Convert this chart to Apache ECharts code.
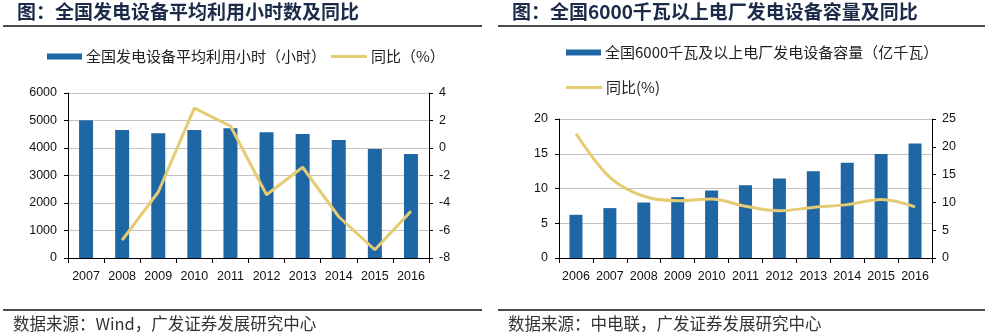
<!DOCTYPE html>
<html>
<head>
<meta charset="utf-8">
<script src="https://cdn.jsdelivr.net/npm/echarts@6/dist/echarts.min.js"></script>
<style>
  html, body { margin: 0; padding: 0; background: #fff; }
  #chart { width: 989px; height: 334px; }
</style>
</head>
<body>
<div id="chart"></div>
<script>
// Left panel: average utilisation hours of generating equipment and YoY change
const yearsA = ['2007','2008','2009','2010','2011','2012','2013','2014','2015','2016'];
const hoursA = [5011, 4655, 4535, 4655, 4715, 4570, 4509, 4290, 3964, 3782];
const yoyA   = [null, -6.7, -3.2, 2.9, 1.6, -3.4, -1.4, -5.0, -7.4, -4.6];

// Right panel: capacity of plants of 6000 kW and above (100 million kW) and YoY change
const yearsB = ['2006','2007','2008','2009','2010','2011','2012','2013','2014','2015','2016'];
const capB   = [6.22, 7.18, 7.98, 8.76, 9.71, 10.48, 11.43, 12.49, 13.69, 14.98, 16.46];
const yoyB   = [22.4, 14.5, 11.1, 10.3, 10.6, 9.3, 8.5, 9.1, 9.6, 10.5, 9.2];

const ticksA_left  = { min: 0, max: 6000, interval: 1000 };
const ticksA_right = { min: -8, max: 4, interval: 2 };
const ticksB_left  = { min: 0, max: 20, interval: 5 };
const ticksB_right = { min: 0, max: 25, interval: 5 };

const BAR = '#1F67A4';
const LINE = '#E5CB72';
const TITLE = '#1C2B49';
const SANS = '"Liberation Sans", Arial, "Noto Sans CJK SC", sans-serif';
const CJK = '"Noto Sans CJK SC", "Liberation Sans", sans-serif';

const axisLabel = { color: '#111', fontSize: 12.5, fontFamily: SANS };
const blackLine = { show: true, lineStyle: { color: '#000', width: 1 } };
const tick = { show: true, length: 4, lineStyle: { color: '#000' } };

function valueAxis(grid, pos, t, split) {
  return {
    type: 'value', gridIndex: grid, position: pos,
    min: t.min, max: t.max, interval: t.interval,
    axisLine: blackLine, axisTick: tick,
    axisLabel: Object.assign({ margin: pos === 'left' ? 11 : 10,
                               formatter: v => String(v) }, axisLabel),
    splitLine: { show: split, lineStyle: { color: '#C4C4C4', width: 1 } }
  };
}

function catAxis(grid, data) {
  return {
    type: 'category', gridIndex: grid, data: data,
    axisLine: blackLine, axisTick: { show: true, length: 5, interval: 0, lineStyle: { color: '#000' } },
    axisLabel: Object.assign({ margin: 12, interval: 0 }, axisLabel)
  };
}

function legend(name, left, top, isBar) {
  return {
    left: left, top: top, padding: 0, data: [{ name: name, icon: 'rect' }],
    itemWidth: isBar ? 35 : 36, itemHeight: isBar ? 6 : 3, itemGap: 4,
    textStyle: { color: '#222', fontSize: 15, fontFamily: CJK, padding: [0, 0, 0, -1] },
    selectedMode: false
  };
}

const nameA1 = '全国发电设备平均利用小时（小时）';
const nameA2 = '同比（%）';
const nameB1 = '全国6000千瓦及以上电厂发电设备容量（亿千瓦）';
const nameB2 = '同比(%)';

const chart = echarts.init(document.getElementById('chart'), null, { renderer: 'canvas' });
chart.setOption({
  animation: false,
  backgroundColor: '#fff',
  textStyle: { fontFamily: SANS },
  grid: [
    { left: 68, right: 560, top: 93, bottom: 76 },
    { left: 559, right: 57, top: 119, bottom: 76 }
  ],
  legend: [
    legend(nameA1, 47, 49, true),
    legend(nameA2, 331, 49, false),
    legend(nameB1, 566, 45, true),
    legend(nameB2, 566, 80, false)
  ],
  xAxis: [catAxis(0, yearsA), catAxis(1, yearsB)],
  yAxis: [
    valueAxis(0, 'left', ticksA_left, true),
    valueAxis(0, 'right', ticksA_right, false),
    valueAxis(1, 'left', ticksB_left, true),
    valueAxis(1, 'right', ticksB_right, false)
  ],
  series: [
    { name: nameA1, type: 'bar', xAxisIndex: 0, yAxisIndex: 0, data: hoursA,
      barWidth: 14, itemStyle: { color: BAR } },
    { name: nameA2, type: 'line', xAxisIndex: 0, yAxisIndex: 1, data: yoyA,
      symbol: 'none', lineStyle: { color: LINE, width: 3 }, itemStyle: { color: LINE } },
    { name: nameB1, type: 'bar', xAxisIndex: 1, yAxisIndex: 2, data: capB,
      barWidth: 13, itemStyle: { color: BAR } },
    { name: nameB2, type: 'line', xAxisIndex: 1, yAxisIndex: 3, data: yoyB,
      smooth: 0.35, symbol: 'none', lineStyle: { color: LINE, width: 3 }, itemStyle: { color: LINE } }
  ],
  graphic: [
    { type: 'text', left: 17, top: 2,
      style: { text: '图：全国发电设备平均利用小时数及同比', fill: TITLE,
               font: 'bold 19px "Noto Sans CJK SC", sans-serif' } },
    { type: 'text', left: 512, top: 2,
      style: { text: '图：全国6000千瓦以上电厂发电设备容量及同比', fill: TITLE,
               font: 'bold 19px "Noto Sans CJK SC", sans-serif' } },
    { type: 'line', shape: { x1: 3, y1: 26, x2: 482, y2: 26 }, style: { stroke: '#111', lineWidth: 1.5 } },
    { type: 'line', shape: { x1: 498, y1: 26, x2: 985, y2: 26 }, style: { stroke: '#111', lineWidth: 1.5 } },
    { type: 'line', shape: { x1: 3, y1: 310, x2: 482, y2: 310 }, style: { stroke: '#111', lineWidth: 1.5 } },
    { type: 'line', shape: { x1: 498, y1: 310, x2: 985, y2: 310 }, style: { stroke: '#111', lineWidth: 1.5 } },
    { type: 'text', left: 13, top: 315,
      style: { text: '数据来源：Wind，广发证券发展研究中心', fill: '#333',
               font: '16.5px "Noto Sans CJK SC", sans-serif' } },
    { type: 'text', left: 508, top: 315,
      style: { text: '数据来源：中电联，广发证券发展研究中心', fill: '#333',
               font: '16.5px "Noto Sans CJK SC", sans-serif' } }
  ]
});
</script>
</body>
</html>
